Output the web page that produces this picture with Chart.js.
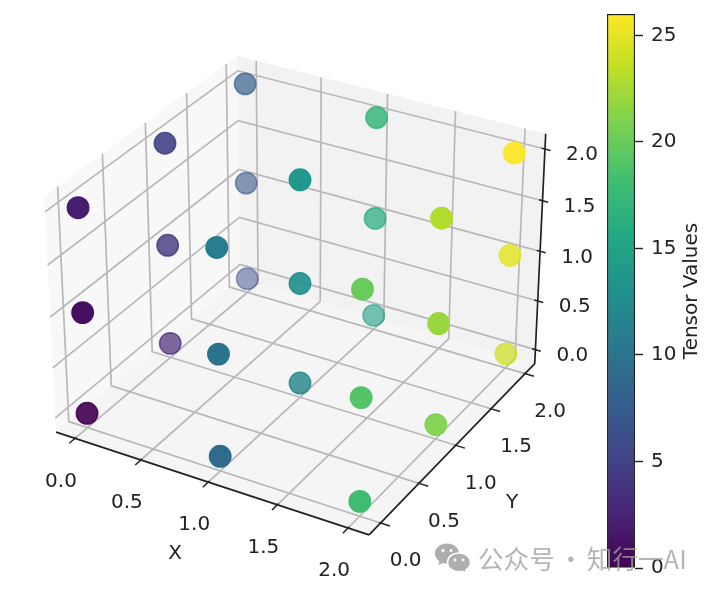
<!DOCTYPE html>
<html><head><meta charset="utf-8">
<style>
html,body{margin:0;padding:0;background:#fff;width:719px;height:597px;overflow:hidden}
canvas{position:absolute;left:0;top:0;filter:blur(0.4px)}
#mark{position:absolute;left:478px;top:541px;font:25.6px "Noto Sans CJK SC";word-spacing:-2.5px;color:rgba(160,160,160,.78);white-space:nowrap;line-height:34px}
#icon{position:absolute;left:434px;top:542px}
</style></head><body>
<canvas id="main" width="719" height="597"></canvas>
<canvas id="bar" width="719" height="597"></canvas>
<svg id="icon" width="40" height="34" viewBox="0 0 40 34">
<path d="M13 1.5C6 1.5 1 6 1 11.5c0 3.4 2 6 4.3 7.8L4.4 23l4.6-2c1.3.4 2.6.6 4 .6 7 0 12-4.6 12-10.1S20 1.500 13 1.500z" fill="#aeaeae"/>
<path d="M25 11c-6.500 0-11.500 4-11.500 9.400s5 9.400 11.500 9.400c1.200 0 2.400-.2 3.500-.5l4 2-.8-3.400c2.800-1.700 4.800-4.400 4.800-7.500 0-5.400-5-9.400-11.500-9.400z" fill="#aeaeae" stroke="#fff" stroke-width="1.500"/>
<circle cx="9" cy="8.500" r="1.500" fill="#fff"/><circle cx="17" cy="8.500" r="1.500" fill="#fff"/>
<circle cx="21" cy="18" r="1.400" fill="#fff"/><circle cx="29" cy="18" r="1.400" fill="#fff"/>
</svg>
<div id="mark">公众号 · 知行一AI</div>
<script src="https://cdn.jsdelivr.net/npm/chart.js@4"></script>
<script>
// ---- data (tensor of shape 3x3x3) ----
const tensorX = [0,0,0,0,0,0,0,0,0,1,1,1,1,1,1,1,1,1,2,2,2,2,2,2,2,2,2];
const tensorY = [0,0,0,1,1,1,2,2,2,0,0,0,1,1,1,2,2,2,0,0,0,1,1,1,2,2,2];
const tensorZ = [0,1,2,0,1,2,0,1,2,0,1,2,0,1,2,0,1,2,0,1,2,0,1,2,0,1,2];
const tensorValues = [0,1,2,3,4,5,6,7,8,9,10,11,12,13,14,15,16,17,18,19,20,21,22,23,24,25,26];
const axisTicks = [0,0.5,1,1.5,2];
const axisTickLabels = ['0.0','0.5','1.0','1.5','2.0'];
const colorbarTicks = [0,5,10,15,20,25];
const colorbarMax = 26;
const viridis = ['#440154','#482576','#414487','#355f8d','#2a788e','#21908d','#22a884','#42be71','#7ad151','#bddf26','#fde725'];

// ---- 3D view (elev 30, azim -60, box 4:4:3, dist 10) ----
const VIEW_LO=-0.1, VIEW_HI=2.1, PANE_LO=-0.146, PANE_HI=2.146;
const ASP=[1.1905,1.1905,0.8929];
const U=[0.86603,0.5,0], V=[-0.25,0.43301,0.86603], W=[0.43301,-0.75,0.5], DIST=10;
const PXS=2890, OX=300, OY=283.5;
function rel(p){return p.map((t,i)=>((t-VIEW_LO)/(VIEW_HI-VIEW_LO)-0.5)*ASP[i]);}
const dot=(a,b)=>a[0]*b[0]+a[1]*b[1]+a[2]*b[2];
function project(x,y,z){const d=rel([x,y,z]);const den=DIST-dot(W,d);return {x:dot(U,d)/den,y:dot(V,d)/den};}
function depth(x,y,z){return dot(W,rel([x,y,z]));}

function hexRgb(h){return [1,3,5].map(i=>parseInt(h.substr(i,2),16));}
function cmap(t){const f=Math.max(0,Math.min(1,t))*(viridis.length-1),i=Math.min(viridis.length-2,Math.floor(f)),a=hexRgb(viridis[i]),b=hexRgb(viridis[i+1]);
 return a.map((c,k)=>Math.round(c+(b[k]-c)*(f-i)));}

const depths=tensorValues.map((_,i)=>depth(tensorX[i],tensorY[i],tensorZ[i]));
const dMin=Math.min(...depths), dMax=Math.max(...depths);
const pointColors=tensorValues.map((v,i)=>{const n=(depths[i]-dMin)/(dMax-dMin);const al=Math.min(1,0.5+0.83*n);const c=cmap(v/colorbarMax);return `rgba(${c[0]},${c[1]},${c[2]},${al.toFixed(3)})`;});

const L=PANE_LO,H=PANE_HI,GAP={x:NaN,y:NaN};
const poly=a=>a.map(p=>project(p[0],p[1],p[2]));
const panes=[
 {pts:[[L,L,L],[L,H,L],[L,H,H],[L,L,H],[L,L,L]],c:'rgba(242,242,242,.5)'},
 {pts:[[L,H,L],[H,H,L],[H,H,H],[L,H,H],[L,H,L]],c:'rgba(230,230,230,.5)'},
 {pts:[[L,L,L],[H,L,L],[H,H,L],[L,H,L],[L,L,L]],c:'rgba(236,236,236,.5)'}
];
const gridLines=[], tickLines=[];
axisTicks.forEach(t=>{
 gridLines.push(...poly([[t,L,L],[t,H,L],[t,H,H]]),GAP);
 gridLines.push(...poly([[L,t,H],[L,t,L],[H,t,L]]),GAP);
 gridLines.push(...poly([[L,L,t],[L,H,t],[H,H,t]]),GAP);
 tickLines.push(...poly([[t,L-0.065,L],[t,L+0.015,L]]),GAP);
 tickLines.push(...poly([[H-0.01,t,L],[H+0.065,t,L]]),GAP);
 tickLines.push(...poly([[H-0.025,H,t],[H+0.04,H,t]]),GAP);
});
const axisLines=[...poly([[L,L,L],[H,L,L]]),GAP,...poly([[H,L,L],[H,H,L]]),GAP,...poly([[H,H,L],[H,H,H]])];

const lineBase={type:'line',showLine:true,pointRadius:0,pointHoverRadius:0,tension:0,spanGaps:false};
const datasets=[
 {type:'scatter',label:'Tensor Values',order:0,data:tensorValues.map((_,i)=>project(tensorX[i],tensorY[i],tensorZ[i])),backgroundColor:pointColors,borderColor:pointColors,pointRadius:10.7,pointHoverRadius:10.7,borderWidth:1.5},
 {...lineBase,label:'ticks',order:1,data:tickLines,borderColor:'#222',borderWidth:1.5},
 {...lineBase,label:'axes',order:2,data:axisLines,borderColor:'#222',borderWidth:1.7},
 {...lineBase,label:'grid',order:3,data:gridLines,borderColor:'#b8b8b8',borderWidth:1.7},
 ...panes.map((p,i)=>({...lineBase,label:'pane'+i,order:4+i,data:poly(p.pts),borderColor:'rgba(0,0,0,0)',borderWidth:0,backgroundColor:p.c,fill:'shape'}))
];

const TXT='#222', FONT='20px "DejaVu Sans"';
const axisText={id:'axisText',afterDatasetsDraw(c){
 const g=c.ctx,sx=c.scales.x,sy=c.scales.y;
 const put=(p,dx,dy,s)=>g.fillText(s,sx.getPixelForValue(p.x)+dx,sy.getPixelForValue(p.y)+dy);
 g.save();g.font=FONT;g.fillStyle=TXT;g.textAlign='center';g.textBaseline='middle';
 axisTicks.forEach((t,i)=>{
  put(project(t,L,L),-14,43,axisTickLabels[i]);
  put(project(H,t,L),25,38,axisTickLabels[i]);
  put(project(H,H,t),37,6,axisTickLabels[i]);
 });
 g.fillText('X',175,554);
 g.fillText('Y',512,503);
 g.restore();
}};

new Chart(document.getElementById('main'),{
 data:{datasets},
 options:{responsive:false,animation:false,events:[],
  layout:{padding:0,autoPadding:false},
  plugins:{legend:{display:false},tooltip:{enabled:false}},
  scales:{
   x:{type:'linear',display:false,min:(0-OX)/PXS,max:(719-OX)/PXS},
   y:{type:'linear',display:false,min:(OY-597)/PXS,max:OY/PXS}
  }},
 plugins:[axisText]
});

// ---- colour bar ----
function barGradient(ctx){
 const ch=ctx.chart; if(!ch.chartArea) return viridis[5];
 const y=ch.scales.y,g=ch.ctx.createLinearGradient(0,y.getPixelForValue(0),0,y.getPixelForValue(colorbarMax));
 viridis.forEach((c,i)=>g.addColorStop(i/(viridis.length-1),c));return g;
}
const barTitle={id:'barTitle',afterDraw(c){
 const g=c.ctx;g.save();g.font=FONT;g.fillStyle=TXT;g.textAlign='center';g.textBaseline='middle';
 g.translate(692,291);g.rotate(-Math.PI/2);g.fillText('Tensor Values',0,0);g.restore();
}};
new Chart(document.getElementById('bar'),{
 type:'bar',
 data:{labels:['Tensor Values'],datasets:[{data:[[0,colorbarMax]],backgroundColor:barGradient,borderColor:'#222',borderWidth:1.5,borderSkipped:false,barPercentage:1,categoryPercentage:1}]},
 options:{responsive:false,animation:false,events:[],
  layout:{padding:{left:607,top:14,bottom:29,right:0},autoPadding:false},
  plugins:{legend:{display:false},tooltip:{enabled:false}},
  scales:{
   x:{display:false},
   y:{position:'right',min:0,max:colorbarMax,
    afterBuildTicks(s){s.ticks=colorbarTicks.map(v=>({value:v}));},
    afterFit(s){s.width=84;s.paddingTop=0;s.paddingBottom=0;},
    border:{display:false},
    grid:{drawOnChartArea:false,drawTicks:true,tickLength:8,tickColor:'#222',tickWidth:1.4},
    ticks:{padding:8,color:TXT,font:{family:'DejaVu Sans',size:20},callback:v=>String(v),autoSkip:false,maxRotation:0}
   }
  }},
 plugins:[barTitle]
});
</script>
</body></html>
